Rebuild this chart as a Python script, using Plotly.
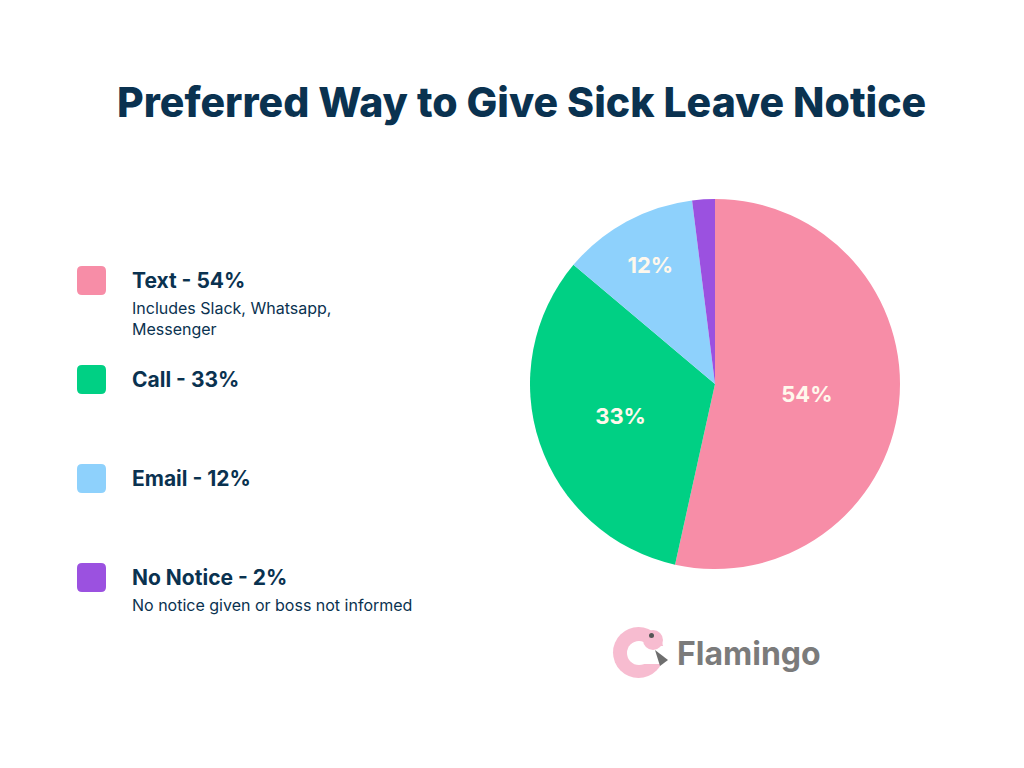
import plotly.graph_objects as go

categories = ["Text", "Call", "Email", "No Notice"]
values = [54, 33, 12, 2]
slice_labels = ["54%", "33%", "12%", ""]
colors = ["#F78DA7", "#00D084", "#8ED1FC", "#9B51E0"]
legend_titles = ["Text - 54%", "Call - 33%", "Email - 12%", "No Notice - 2%"]
legend_notes = ["Includes Slack, Whatsapp,<br>Messenger", "", "", "No notice given or boss not informed"]

W, H = 1024, 768
OFF = 8  # page body margin compensation
NAVY = "#0A3250"


def px(x):
    return (x - OFF) / W


def py(y):
    return 1 - (y - OFF) / H


def rounded_rect(x0, y0, x1, y1, r):
    X = lambda v: f"{px(v):.5f}"
    Y = lambda v: f"{py(v):.5f}"
    return (f"M {X(x0 + r)},{Y(y0)} L {X(x1 - r)},{Y(y0)} Q {X(x1)},{Y(y0)} {X(x1)},{Y(y0 + r)} "
            f"L {X(x1)},{Y(y1 - r)} Q {X(x1)},{Y(y1)} {X(x1 - r)},{Y(y1)} "
            f"L {X(x0 + r)},{Y(y1)} Q {X(x0)},{Y(y1)} {X(x0)},{Y(y1 - r)} "
            f"L {X(x0)},{Y(y0 + r)} Q {X(x0)},{Y(y0)} {X(x0 + r)},{Y(y0)} Z")


fig = go.Figure(go.Pie(
    labels=categories, values=values, text=slice_labels,
    textinfo="text", textposition="inside", insidetextorientation="horizontal",
    marker=dict(colors=colors, line=dict(width=0)),
    sort=False, direction="clockwise", rotation=0,
    textfont=dict(family="Inter", size=22, color="#FFF8EC", weight="bold"),
    domain=dict(x=[px(530), px(900)], y=[py(569), py(199)]),
    showlegend=False, hoverinfo="label+percent",
))

shapes = []
annotations = []
row_y = [280, 379, 478, 577]
for i, cat in enumerate(categories):
    y = row_y[i]
    shapes.append(dict(type="path", xref="paper", yref="paper",
                       path=rounded_rect(77, y - 14, 106, y + 15, 5),
                       fillcolor=colors[i], line=dict(width=0)))
    annotations.append(dict(
        text=legend_titles[i], xref="paper", yref="paper", x=px(130), y=py(y),
        xanchor="left", yanchor="middle", showarrow=False,
        font=dict(family="Inter", size=21, color=NAVY, weight="bold")))
    if legend_notes[i]:
        annotations.append(dict(
            text=legend_notes[i], xref="paper", yref="paper", x=px(130), y=py(y + 16),
            xanchor="left", yanchor="top", align="left", showarrow=False,
            font=dict(family="Inter", size=16, color=NAVY)))

annotations.append(dict(
    text="Preferred Way to Give Sick Leave Notice", xref="paper", yref="paper",
    x=px(521), y=py(102), xanchor="center", yanchor="middle", showarrow=False,
    font=dict(family="Inter", size=41, color=NAVY, weight=800)))

# Flamingo logo
PINK = "#F7BCD0"
shapes.append(dict(type="circle", xref="paper", yref="paper",
                   x0=px(613), x1=px(664), y0=py(678), y1=py(627),
                   fillcolor=PINK, line=dict(width=0)))
shapes.append(dict(type="circle", xref="paper", yref="paper",
                   x0=px(627), x1=px(651), y0=py(665), y1=py(641),
                   fillcolor="white", line=dict(width=0)))
shapes.append(dict(type="rect", xref="paper", yref="paper",
                   x0=px(640), x1=px(668), y0=py(664), y1=py(646),
                   fillcolor="white", line=dict(width=0)))
shapes.append(dict(type="circle", xref="paper", yref="paper",
                   x0=px(643), x1=px(663), y0=py(650), y1=py(630),
                   fillcolor=PINK, line=dict(width=0)))
shapes.append(dict(type="path", xref="paper", yref="paper",
                   path=f"M {px(655):.5f},{py(650):.5f} L {px(668):.5f},{py(660):.5f} L {px(660):.5f},{py(666):.5f} Z",
                   fillcolor="#6E6E6E", line=dict(width=0)))
shapes.append(dict(type="circle", xref="paper", yref="paper",
                   x0=px(649), x1=px(654), y0=py(638), y1=py(633),
                   fillcolor="#555555", line=dict(width=0)))
annotations.append(dict(
    text="Flamingo", xref="paper", yref="paper", x=px(675), y=py(653),
    xanchor="left", yanchor="middle", showarrow=False,
    font=dict(family="Inter", size=32, color="#7B7B7B", weight="bold")))

fig.update_layout(
    width=W, height=H, margin=dict(l=0, r=0, t=0, b=0),
    paper_bgcolor="white", plot_bgcolor="white",
    shapes=shapes, annotations=annotations,
)

fig.write_html("out.html")
